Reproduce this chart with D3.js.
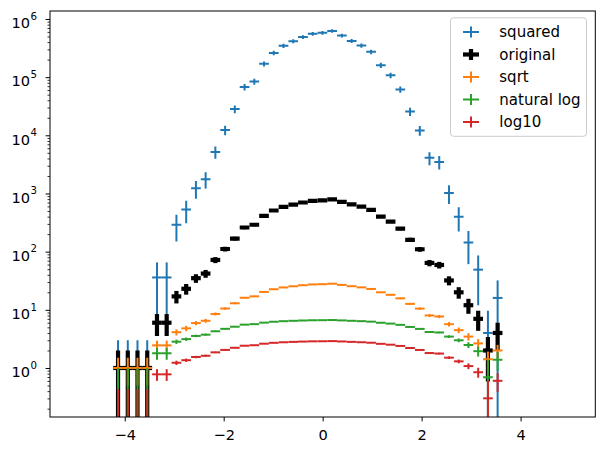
<!DOCTYPE html>
<html>
<head>
<meta charset="utf-8">
<script src="https://cdn.jsdelivr.net/npm/d3@7"></script>
<style>
body { margin: 0; background: white; }
text { font-family: "DejaVu Sans", sans-serif; fill: black; }
</style>
</head>
<body>
<script>
// histogram bins (centres) and half bin width
var binCenters = [-4.135, -3.938, -3.742, -3.545, -3.348, -3.152, -2.955, -2.758, -2.561, -2.365,
    -2.168, -1.971, -1.775, -1.578, -1.381, -1.185, -0.988, -0.791, -0.594, -0.398,
    -0.201, -0.004, 0.192, 0.389, 0.586, 0.783, 0.979, 1.176, 1.373, 1.569,
    1.766, 1.963, 2.159, 2.356, 2.553, 2.750, 2.946, 3.143, 3.340, 3.536];
var binHalfWidth = 0.098;

// original counts
var original = [1, 1, 1, 1, 6, 6, 17, 23, 35, 42, 72, 111, 168, 260, 290, 412, 510, 588, 645, 700,
    746, 760, 790, 720, 648, 592, 522, 400, 328, 248, 160, 110, 64, 59, 32, 20, 12, 7, 2, 4];
var originalErr = [1, 1, 1, 1, 2.449, 2.449, 4.123, 4.796, 5.916, 6.481, 8.485, 10.536, 12.961, 16.125, 17.029, 20.298, 22.583, 24.249, 25.397, 26.458,
    27.313, 27.568, 28.107, 26.833, 25.456, 24.331, 22.847, 20, 18.111, 15.748, 12.649, 10.488, 8, 7.681, 5.657, 4.472, 3.464, 2.646, 1.414, 2];

// squared
var squared = [1, 1, 1, 1, 36, 36, 289, 529, 1225, 1764, 5184, 12321, 28224, 67600, 84100, 169744, 260100, 345744, 416025, 490000,
    556516, 577600, 624100, 518400, 419904, 350464, 272484, 160000, 107584, 61504, 25600, 12100, 4096, 3481, 1024, 400, 144, 49, 4, 16];
var squaredErr = [2, 2, 2, 2, 29.39, 29.39, 140.2, 220.6, 414.1, 544.4, 1221.8, 2339, 4355, 8385, 9877, 16726, 23035, 28517, 32762, 37041,
    40751, 41903, 44409, 38640, 32991, 28808, 23852, 16000, 11881, 7811, 4048, 2307, 1024, 906.4, 362, 178.9, 83.1, 37.04, 5.657, 16];

// sqrt
var sqrtVals = [1, 1, 1, 1, 2.449, 2.449, 4.123, 4.796, 5.916, 6.481, 8.485, 10.536, 12.961, 16.125, 17.029, 20.298, 22.583, 24.249, 25.397, 26.458,
    27.313, 27.568, 28.107, 26.833, 25.456, 24.331, 22.847, 20, 18.111, 15.748, 12.649, 10.488, 8, 7.681, 5.657, 4.472, 3.464, 2.646, 1.414, 2];
var sqrtErr = [0.5, 0.5, 0.5, 0.5, 0.5, 0.5, 0.5, 0.5, 0.5, 0.5, 0.5, 0.5, 0.5, 0.5, 0.5, 0.5, 0.5, 0.5, 0.5, 0.5,
    0.5, 0.5, 0.5, 0.5, 0.5, 0.5, 0.5, 0.5, 0.5, 0.5, 0.5, 0.5, 0.5, 0.5, 0.5, 0.5, 0.5, 0.5, 0.5, 0.5];

// natural log
var lnVals = [0, 0, 0, 0, 1.792, 1.792, 2.833, 3.135, 3.555, 3.738, 4.277, 4.710, 5.124, 5.561, 5.670, 6.021, 6.234, 6.377, 6.469, 6.551,
    6.615, 6.633, 6.672, 6.579, 6.474, 6.384, 6.258, 5.991, 5.793, 5.513, 5.075, 4.700, 4.159, 4.078, 3.466, 2.996, 2.485, 1.946, 0.693, 1.386];
var lnErr = [1, 1, 1, 1, 0.408, 0.408, 0.243, 0.209, 0.169, 0.154, 0.118, 0.0949, 0.0772, 0.0620, 0.0587, 0.0493, 0.0443, 0.0412, 0.0394, 0.0378,
    0.0366, 0.0363, 0.0356, 0.0373, 0.0393, 0.0411, 0.0438, 0.05, 0.0552, 0.0635, 0.0791, 0.0953, 0.125, 0.130, 0.177, 0.224, 0.289, 0.378, 0.707, 0.5];

// log10
var log10Vals = [0, 0, 0, 0, 0.778, 0.778, 1.230, 1.362, 1.544, 1.623, 1.857, 2.045, 2.225, 2.415, 2.462, 2.615, 2.708, 2.769, 2.810, 2.845,
    2.873, 2.881, 2.898, 2.857, 2.812, 2.772, 2.718, 2.602, 2.516, 2.394, 2.204, 2.041, 1.806, 1.771, 1.505, 1.301, 1.079, 0.845, 0.301, 0.602];
var log10Err = [0.434, 0.434, 0.434, 0.434, 0.177, 0.177, 0.105, 0.0906, 0.0734, 0.0670, 0.0512, 0.0412, 0.0335, 0.0269, 0.0255, 0.0214, 0.0192, 0.0179, 0.0171, 0.0164,
    0.0159, 0.0158, 0.0155, 0.0162, 0.0171, 0.0178, 0.0190, 0.0217, 0.0240, 0.0276, 0.0343, 0.0414, 0.0543, 0.0565, 0.0768, 0.0971, 0.125, 0.164, 0.307, 0.217];

var seriesNames = ["squared", "original", "sqrt", "natural log", "log10"];
var xTicks = [-4, -2, 0, 2, 4];
var yMajorTicks = [1, 10, 100, 1000, 10000, 100000, 1000000];

var margin = {left: 50, top: 11};
var width = 545.3;
var height = 406;

var svg = d3.select("body")
    .append("svg")
    .attr("width", 606)
    .attr("height", 454);

svg.append("rect").attr("width", 606).attr("height", 454).attr("fill", "white");

var plot = svg.append("g")
    .attr("transform", "translate(" + margin.left + "," + margin.top + ")");

plot.append("clipPath")
    .attr("id", "clip")
    .append("rect")
    .attr("width", width)
    .attr("height", height);

// scales
var x = d3.scaleLinear().domain([-5.51, 5.51]).range([0, width]);
var y = d3.scaleLog().domain([0.1437, 1.371e6]).range([height, 0]);

function yPix(v) {
    return v > 0 ? y(v) : height + 50;
}

// one errorbar series: horizontal bin-width bars, then vertical error bars
function drawErrorbars(vals, errs, color, lw) {
    var pts = vals.map(function(v, i) {
        return {x: binCenters[i], y: v, e: errs[i]};
    });
    var g = plot.append("g").attr("clip-path", "url(#clip)");
    g.selectAll("line.xe")
        .data(pts.filter(function(d) { return d.y > 0; }))
        .enter()
        .append("line")
        .attr("x1", function(d) { return x(d.x - binHalfWidth); })
        .attr("x2", function(d) { return x(d.x + binHalfWidth); })
        .attr("y1", function(d) { return y(d.y); })
        .attr("y2", function(d) { return y(d.y); })
        .attr("stroke", color)
        .attr("stroke-width", lw);
    g.selectAll("line.ye")
        .data(pts)
        .enter()
        .append("line")
        .attr("x1", function(d) { return x(d.x); })
        .attr("x2", function(d) { return x(d.x); })
        .attr("y1", function(d) { return yPix(d.y - d.e); })
        .attr("y2", function(d) { return yPix(d.y + d.e); })
        .attr("stroke", color)
        .attr("stroke-width", lw);
}

var seriesColors = ["#1f77b4", "#000000", "#ff7f0e", "#2ca02c", "#d62728"];
var seriesWidths = [2, 4.2, 2, 2, 2];

drawErrorbars(squared, squaredErr, seriesColors[0], seriesWidths[0]);
drawErrorbars(original, originalErr, seriesColors[1], seriesWidths[1]);
drawErrorbars(sqrtVals, sqrtErr, seriesColors[2], seriesWidths[2]);
drawErrorbars(lnVals, lnErr, seriesColors[3], seriesWidths[3]);
drawErrorbars(log10Vals, log10Err, seriesColors[4], seriesWidths[4]);

// x axis
var xAxisG = plot.append("g")
    .attr("transform", "translate(0," + height + ")")
    .call(d3.axisBottom(x).tickValues(xTicks).tickSize(4.4).tickFormat(d3.format("")));
xAxisG.select(".domain").remove();
xAxisG.selectAll(".tick line").attr("stroke", "black").attr("stroke-width", 1);
xAxisG.selectAll(".tick text")
    .attr("y", 23)
    .attr("dy", 0)
    .attr("font-size", 14.6)
    .attr("font-family", "DejaVu Sans")
    .attr("fill", "black");

// minor y ticks
var yMinor = [];
[0.1, 1, 10, 100, 1000, 10000, 100000, 1000000].forEach(function(p) {
    for (var k = 2; k <= 9; k++) {
        var v = p * k;
        if (v > y.domain()[0] && v < y.domain()[1]) yMinor.push(v);
    }
});
plot.append("g")
    .call(d3.axisLeft(y).tickValues(yMinor).tickSize(2.5).tickFormat(""))
    .call(function(g) {
        g.select(".domain").remove();
        g.selectAll(".tick line").attr("stroke", "black").attr("stroke-width", 0.8);
    });

// major y ticks with 10^n labels
var yAxisG = plot.append("g")
    .call(d3.axisLeft(y).tickValues(yMajorTicks).tickSize(4.4).tickFormat(""));
yAxisG.select(".domain").remove();
yAxisG.selectAll(".tick line").attr("stroke", "black").attr("stroke-width", 1);
yAxisG.selectAll(".tick text").each(function(d) {
    var t = d3.select(this);
    t.attr("x", -13)
        .attr("dy", 0)
        .attr("y", 8.7)
        .attr("font-size", 14.6)
        .attr("font-family", "DejaVu Sans")
        .attr("fill", "black")
        .attr("text-anchor", "end");
    t.append("tspan").text("10");
    t.append("tspan")
        .attr("dx", 0.5)
        .attr("dy", -8.4)
        .attr("font-size", 10.2)
        .text(Math.round(Math.log10(d)));
});

// axes frame
plot.append("rect")
    .attr("width", width)
    .attr("height", height)
    .attr("fill", "none")
    .attr("stroke", "black")
    .attr("stroke-width", 1);

// legend
var legend = svg.append("g").attr("transform", "translate(450,17.3)");
legend.append("rect")
    .attr("x", 0.5)
    .attr("y", 0.5)
    .attr("width", 136)
    .attr("height", 118.5)
    .attr("rx", 3)
    .attr("fill", "white")
    .attr("fill-opacity", 0.8)
    .attr("stroke", "#cccccc")
    .attr("stroke-width", 1);

seriesNames.forEach(function(name, i) {
    var cy = 14.7 + i * 22.5;
    legend.append("line")
        .attr("x1", 13).attr("x2", 29)
        .attr("y1", cy).attr("y2", cy)
        .attr("stroke", seriesColors[i])
        .attr("stroke-width", seriesWidths[i]);
    legend.append("line")
        .attr("x1", 21).attr("x2", 21)
        .attr("y1", cy - 5.5).attr("y2", cy + 5.5)
        .attr("stroke", seriesColors[i])
        .attr("stroke-width", seriesWidths[i]);
    legend.append("text")
        .attr("x", 49.3)
        .attr("y", cy + 5.2)
        .attr("font-size", 15)
        .text(name);
});
</script>
</body>
</html>
